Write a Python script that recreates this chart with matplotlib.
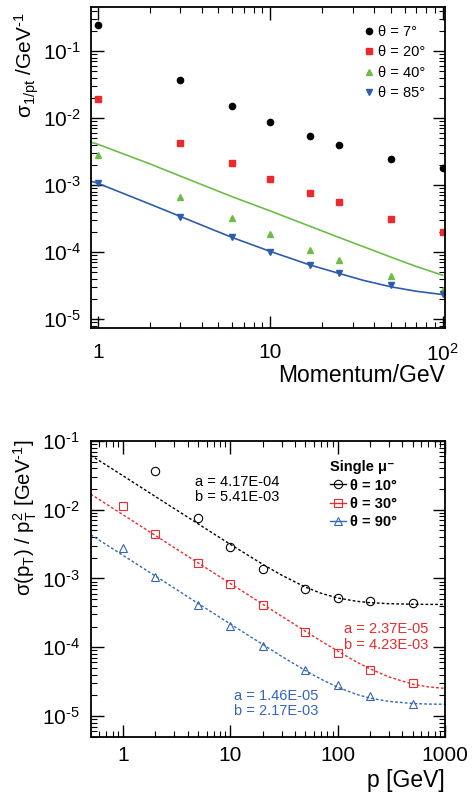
import numpy as np
import matplotlib
matplotlib.use("Agg")
import matplotlib.pyplot as plt
import matplotlib.ticker as ticker

plt.rcParams['font.family'] = ['Liberation Sans', 'DejaVu Sans']
plt.rcParams['mathtext.fontset'] = 'custom'
plt.rcParams['mathtext.rm'] = 'Liberation Sans'
plt.rcParams['mathtext.it'] = 'Liberation Sans:italic'
plt.rcParams['mathtext.bf'] = 'Liberation Sans:bold'
plt.rcParams['mathtext.default'] = 'regular'

# ---- top panel: sigma(1/pt) vs momentum
top_p = [1, 3, 6, 10, 17, 25, 50, 100]
sig_7 = [0.247, 0.0375, 0.0152, 0.0088, 0.0053, 0.0039, 0.00247, 0.00182]
sig_20 = [0.0189, 0.0042, 0.0021, 0.00123, 0.00077, 0.000555, 0.00031, 0.000199]
sig_40 = [0.0028, 0.000665, 0.000327, 0.000183, 0.000109, 7.7e-5, 4.4e-5, 2.7e-5]
sig_85 = [0.00107, 0.000332, 0.000165, 1.0e-4, 6.3e-5, 4.9e-5, 3.2e-5, 2.34e-5]

line_p = [0.9, 1, 2, 3, 6, 10, 17, 25, 35, 50, 70, 100]
line_green = [4.4e-3, 4.05e-3, 2.07e-3, 1.36e-3, 6.7e-4, 4.1e-4, 2.42e-4, 1.65e-4, 1.19e-4, 8.4e-5, 6.1e-5, 4.5e-5]
line_blue = [1.15e-3, 1.06e-3, 5.2e-4, 3.4e-4, 1.65e-4, 1.02e-4, 6.4e-5, 4.8e-5, 3.75e-5, 3.03e-5, 2.6e-5, 2.32e-5]

# ---- bottom panel: sigma(pT)/pT^2 vs p
p_10 = [2, 5, 10, 20, 50, 100, 200, 500]
res_10 = [0.0369, 0.0077, 0.00291, 0.00139, 0.000702, 0.000519, 0.000463, 0.000443]
p_all = [1, 2, 5, 10, 20, 50, 100, 200, 500]
res_30 = [0.0114, 0.0045, 0.00168, 0.00083, 0.000415, 0.000166, 8.2e-5, 4.68e-5, 2.99e-5]
res_90 = [0.00275, 0.00105, 0.000405, 0.000203, 0.000104, 4.62e-5, 2.79e-5, 1.93e-5, 1.48e-5]

fit_p = [0.5, 0.7, 1, 2, 5, 10, 20, 30, 50, 70, 100, 150, 200, 300, 500, 700, 1000]
fit_10 = [0.0618, 0.0445, 0.0312, 0.0156, 0.00625, 0.00314, 0.00161, 0.00112, 0.00075, 0.00061,
          0.00052, 0.000466, 0.000445, 0.00043, 0.000422, 0.00042, 0.000419]
fit_30 = [0.0169, 0.0121, 0.00846, 0.00423, 0.00169, 0.000846, 0.000424, 0.000283, 0.000171, 0.000123,
          8.8e-5, 6.1e-5, 4.85e-5, 3.7e-5, 2.9e-5, 2.65e-5, 2.52e-5]
fit_90 = [0.00434, 0.0031, 0.00217, 0.00109, 0.000434, 0.000218, 0.00011, 7.38e-5, 4.58e-5, 3.43e-5,
          2.62e-5, 2.06e-5, 1.82e-5, 1.63e-5, 1.52e-5, 1.49e-5, 1.48e-5]

fit_text_10 = "a = 4.17E-04\nb = 5.41E-03"
fit_text_30 = "a = 2.37E-05\nb = 4.23E-03"
fit_text_90 = "a = 1.46E-05\nb = 2.17E-03"

RED = '#ec2a2e'
GREEN = '#6cbd45'
BLUE = '#2c5cab'
BLUE2 = '#3567b5'


def pow10(v, pos):
    e = int(round(np.log10(v)))
    if e < 0:
        return r'$10^{\text{-}%d}$' % (-e)
    return r'$10^{%d}$' % e


def style_axis(ax, ypad, xpad):
    ax.set_xscale('log')
    ax.set_yscale('log')
    ax.xaxis.set_minor_locator(ticker.LogLocator(base=10, subs=np.arange(2, 10), numticks=30))
    ax.yaxis.set_minor_locator(ticker.LogLocator(base=10, subs=np.arange(2, 10), numticks=30))
    ax.xaxis.set_minor_formatter(ticker.NullFormatter())
    ax.yaxis.set_minor_formatter(ticker.NullFormatter())
    ax.tick_params(which='both', direction='in', top=True, right=True, labelsize=15)
    ax.tick_params(which='major', length=9, width=1)
    ax.tick_params(which='minor', length=4.5, width=0.8)
    ax.tick_params(axis='y', which='both', pad=ypad)
    ax.tick_params(axis='x', which='both', pad=xpad)
    for s in ax.spines.values():
        s.set_linewidth(1.3)


fig = plt.figure(figsize=(4.74, 7.94), dpi=100)

# top
ax1 = fig.add_axes([0.1913, 0.5869, 0.7475, 0.4043])
ax1.plot(line_p, line_green, color=GREEN, lw=1.2)
ax1.plot(line_p, line_blue, color=BLUE, lw=1.2)
ax1.plot(top_p, sig_7, 'o', color='black', ms=4.5, label='θ = 7°')
ax1.plot(top_p, sig_20, 's', color=RED, ms=4.5, label='θ = 20°')
ax1.plot(top_p, sig_40, '^', color=GREEN, ms=4.5, label='θ = 40°')
ax1.plot(top_p, sig_85, 'v', color=BLUE, ms=4.5, label='θ = 85°')
style_axis(ax1, 7, 11)
ax1.set_xlim(0.907, 103)
ax1.set_ylim(7.35e-6, 0.454)
ax1.xaxis.set_major_locator(ticker.FixedLocator([1, 10, 100]))
ax1.xaxis.set_major_formatter(ticker.FixedFormatter(['1', '10', '$10^{2}$']))
ax1.yaxis.set_major_locator(ticker.LogLocator(base=10, numticks=10))
ax1.yaxis.set_major_formatter(ticker.FuncFormatter(pow10))
ax1.legend(loc='upper right', bbox_to_anchor=(0.944, 0.945), frameon=False, fontsize=10.5,
           handlelength=0.6, handletextpad=0.3, labelspacing=0.45, borderpad=0, borderaxespad=0)
fig.text(0.057, 1 - 12 / 794, r'σ$_{1/pt}$ /GeV$^{\text{-}1}$', rotation=90, ha='center', va='top',
         fontsize=15)
fig.text(445 / 474, 1 - 376 / 794, 'Momentum/GeV', ha='right', va='center', fontsize=16.5)

# bottom
ax2 = fig.add_axes([0.1913, 0.0722, 0.7475, 0.3724])
ax2.plot(fit_p, fit_10, color='black', lw=1, ls=(0, (2, 1.5)))
ax2.plot(fit_p, fit_30, color=RED, lw=1, ls=(0, (2, 1.5)))
ax2.plot(fit_p, fit_90, color=BLUE2, lw=1, ls=(0, (2, 1.5)))
ax2.plot(p_10, res_10, 'o', mfc='none', mec='black', ms=6, mew=0.8)
ax2.plot(p_all, res_30, 's', mfc='none', mec=RED, ms=6, mew=0.8)
ax2.plot(p_all, res_90, '^', mfc='none', mec=BLUE2, ms=6, mew=0.8)
# legend handles
h10, = ax2.plot([], [], '-o', color='black', mfc='none', ms=6, mew=0.8, lw=1)
h30, = ax2.plot([], [], '-s', color=RED, mfc='none', ms=6, mew=0.8, lw=1)
h90, = ax2.plot([], [], '-^', color=BLUE2, mfc='none', ms=6, mew=0.8, lw=1)
style_axis(ax2, 8, 7)
ax2.set_xlim(0.5, 1000)
ax2.set_ylim(5e-6, 0.1)
ax2.xaxis.set_major_locator(ticker.FixedLocator([1, 10, 100, 1000]))
ax2.xaxis.set_major_formatter(ticker.FixedFormatter(['1', '10', '100', '1000']))
ax2.yaxis.set_major_locator(ticker.LogLocator(base=10, numticks=10))
ax2.yaxis.set_major_formatter(ticker.FuncFormatter(pow10))
ax2.legend([h10, h30, h90], ['θ = 10°', 'θ = 30°', 'θ = 90°'], loc='upper left',
           bbox_to_anchor=(0.675, 0.935), frameon=False,
           prop={'weight': 'bold', 'size': 10.5}, title='Single μ⁻',
           title_fontproperties={'weight': 'bold', 'size': 10.5}, alignment='left',
           handlelength=1.1, handletextpad=0.25, labelspacing=0.3, borderpad=0, borderaxespad=0)
ax2.text(0.294, 0.836, fit_text_10, transform=ax2.transAxes, ha='left', va='center',
         fontsize=10.5, color='black', linespacing=1.1)
ax2.text(0.714, 0.337, fit_text_30, transform=ax2.transAxes, ha='left', va='center',
         fontsize=10.5, color=RED, linespacing=1.1)
ax2.text(0.405, 0.113, fit_text_90, transform=ax2.transAxes, ha='left', va='center',
         fontsize=10.5, color=BLUE2, linespacing=1.1)
fig.text(25 / 474, 1 - 440 / 794, r'σ(p$_T$) / p$_T^2$ [GeV$^{\text{-}1}$]', rotation=90,
         ha='center', va='top', fontsize=14.7)
fig.text(445 / 474, 1 - 780 / 794, 'p [GeV]', ha='right', va='center', fontsize=16.5)

fig.savefig('out.png', dpi=100)
